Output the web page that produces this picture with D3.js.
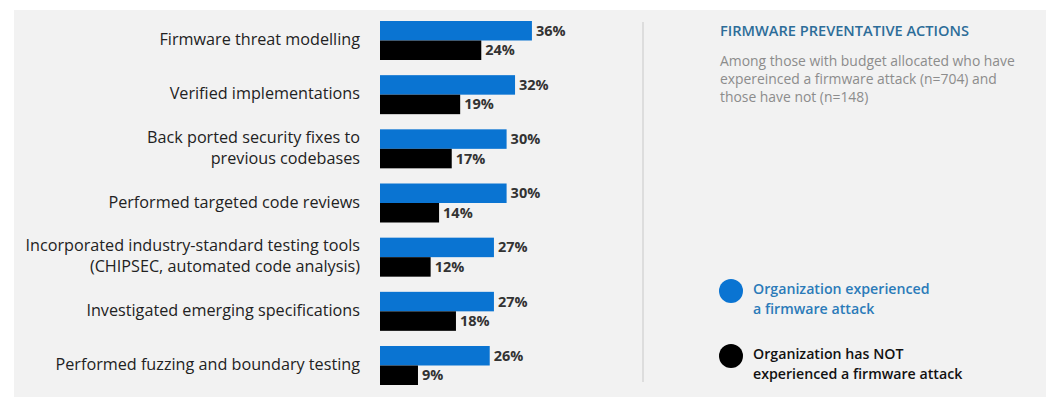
<!DOCTYPE html>
<html>
<head>
<meta charset="utf-8">
<script src="https://cdn.jsdelivr.net/npm/d3@7"></script>
<style>
  body { margin: 0; background: #fff; }
  svg { display: block; font-family: "Open Sans", "Noto Sans", sans-serif; }
</style>
</head>
<body>
<svg id="chart"></svg>
<script>
// data
var categories = [
  ["Firmware threat modelling"],
  ["Verified implementations"],
  ["Back ported security fixes to", "previous codebases"],
  ["Performed targeted code reviews"],
  ["Incorporated industry-standard testing tools", "(CHIPSEC, automated code analysis)"],
  ["Investigated emerging specifications"],
  ["Performed fuzzing and boundary testing"]
];
var experienced = [36, 32, 30, 30, 27, 27, 26];
var notExperienced = [24, 19, 17, 14, 12, 18, 9];
var seriesNames = ["Organization experienced|a firmware attack", "Organization has NOT|experienced a firmware attack"];
var seriesColors = ["#0a74d2", "#000000"];

var width = 1046, height = 399;

var svg = d3.select("#chart")
    .attr("width", width)
    .attr("height", height);

svg.append("rect")
    .attr("x", 14).attr("y", 10)
    .attr("width", width - 14).attr("height", height - 12)
    .attr("fill", "#f2f2f2");

var idx = d3.range(categories.length);

var y = d3.scaleBand()
    .domain(idx)
    .range([21, 385])
    .paddingInner(0.28)
    .paddingOuter(0);

var sub = d3.scaleBand()
    .domain([0, 1])
    .range([0, y.bandwidth()]);

var x = d3.scaleLinear()
    .domain([0, 100])
    .range([380, 802]);

var g = svg.selectAll(".grp")
    .data(idx)
  .enter().append("g")
    .attr("class", "grp")
    .attr("transform", function(i) { return "translate(0," + y(i) + ")"; });

g.each(function(i) {
  var grp = d3.select(this);
  [experienced[i], notExperienced[i]].forEach(function(v, s) {
    grp.append("rect")
        .attr("x", x(0))
        .attr("y", sub(s))
        .attr("width", x(v) - x(0))
        .attr("height", sub.bandwidth())
        .attr("fill", seriesColors[s]);
    grp.append("text")
        .attr("x", x(v) + 4)
        .attr("y", sub(s) + sub.bandwidth() / 2)
        .attr("dy", "0.35em")
        .attr("font-size", 14.5)
        .attr("font-weight", 700)
        .attr("fill", "#333")
        .text(v + "%");
  });

  var lines = categories[i];
  var t = grp.append("text")
      .attr("text-anchor", "end")
      .attr("font-size", 16.2)
      .attr("fill", "#222");
  lines.forEach(function(line, k) {
    t.append("tspan")
        .attr("x", 360)
        .attr("y", y.bandwidth() / 2 - 1 + (k - (lines.length - 1) / 2) * 21)
        .attr("dy", "0.35em")
        .text(line);
  });
});

// divider
svg.append("line")
    .attr("x1", 643).attr("x2", 643)
    .attr("y1", 22).attr("y2", 382)
    .attr("stroke", "#d6d6d6")
    .attr("stroke-width", 1.5);

// title block
svg.append("text")
    .attr("x", 720).attr("y", 36)
    .attr("font-size", 14.6)
    .attr("font-weight", 600)
    .attr("fill", "#2d6d99")
    .text("FIRMWARE PREVENTATIVE ACTIONS");

var subtitle = ["Among those with budget allocated who have", "expereinced a firmware attack (n=704) and", "those have not (n=148)"];
svg.append("text")
    .attr("font-size", 13.9)
    .attr("fill", "#8c8c8c")
    .selectAll("tspan")
    .data(subtitle)
  .enter().append("tspan")
    .attr("x", 720)
    .attr("y", function(d, k) { return 66 + k * 18; })
    .text(function(d) { return d; });

// legend
var legendY = [291, 356];
var lg = svg.selectAll(".legend")
    .data(seriesNames)
  .enter().append("g")
    .attr("class", "legend")
    .attr("transform", function(d, s) { return "translate(731," + legendY[s] + ")"; });

lg.append("circle")
    .attr("r", 12)
    .attr("fill", function(d, s) { return seriesColors[s]; });

lg.append("text")
    .attr("font-size", 14.2)
    .attr("font-weight", 600)
    .attr("fill", function(d, s) { return s === 0 ? "#2b7bb9" : "#111"; })
    .selectAll("tspan")
    .data(function(d) { return d.split("|"); })
  .enter().append("tspan")
    .attr("x", 22)
    .attr("y", function(d, k) { return 3 + k * 19.5; })
    .text(function(d) { return d; });
</script>
</body>
</html>
